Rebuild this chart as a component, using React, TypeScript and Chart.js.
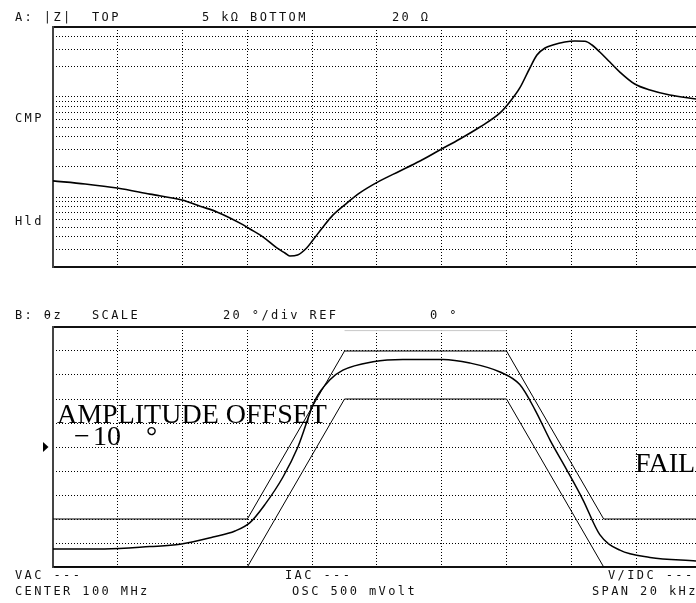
import React, { useEffect, useRef } from "react";
import { Chart, registerables } from "chart.js";
Chart.register(...registerables);

// Frequency axis: offset from CENTER 100 MHz, in kHz (SPAN 20 kHz, 2 kHz/div)
const FREQ_MIN = -10;
const FREQ_MAX = 9.85; // visible right edge
const FREQ_GRID = [-8, -6, -4, -2, 0, 2, 4, 6, 8];

// Trace A: |Z| (log, TOP 5 kOhm, BOTTOM 20 Ohm)
const Z_MIN = 20;
const Z_MAX = 5000;
const Z_GRID = [30, 40, 50, 60, 70, 80, 90, 100, 200, 300, 400, 500, 600, 700, 800, 900, 1000, 2000, 3000, 4000];
const Z_FREQ = [-10, -9.01, -8.02, -7.01, -5.99, -5.46, -4.94, -4.14, -3.92, -3.52, -3.09, -2.84, -2.69, -2.45, -2.17, -1.98, -1.67, -1.36, -0.93, -0.53, 0.09, 0.71, 1.33, 1.94, 2.56, 3.18, 3.8, 4.1, 4.41, 4.72, 4.94, 5.19, 5.43, 5.8, 6.11, 6.42, 6.64, 6.88, 7.19, 7.5, 7.96, 8.43, 9.04, 9.85];
const Z_OHM = [145, 135, 123, 107, 93, 81, 71, 53, 48, 40, 31, 27.6, 25.8, 26.4, 31, 37, 50, 66, 87, 110, 145, 182, 229, 295, 380, 501, 692, 891, 1230, 1945, 2624, 3083, 3304, 3540, 3622, 3600, 3304, 2812, 2234, 1774, 1346, 1172, 1045, 953];

// Trace B: theta z (linear, 20 deg/div, REF 0 deg)
const PH_MIN = -100;
const PH_MAX = 100;
const PH_GRID = [-80, -60, -40, -20, 0, 20, 40, 60, 80];
const PH_REF = 0;
const PH_FREQ = [-10, -8.4, -7.01, -6.08, -5.06, -4.38, -3.92, -3.46, -2.9, -2.44, -1.91, -1.45, -1.05, -0.12, 0.8, 2.04, 2.87, 3.8, 4.41, 4.88, 5.34, 5.86, 6.36, 6.88, 7.5, 8.43, 9.85];
const PH_DEG = [-85, -85, -83, -81, -75, -70, -63, -48, -25, 0, 39, 56, 64, 71, 73, 73, 70, 62.5, 52, 31, 6, -19, -44, -73, -86, -92, -95];

// Limit lines
const LIM_FREQ = [-10, -4, -1, 4, 7, 9.85];
const UPPER_DEG = [-60, -60, 80, 80, -60, -60];
const LOWER_DEG = [-100, -100, 40, 40, -100, -100];
const GHOST_FREQ = [-1, 4];
const GHOST_DEG = [97, 97];

const pts = (xs: number[], ys: number[]) => xs.map((x, i) => ({ x, y: ys[i] }));

const framePlugin = {
  id: "frame",
  beforeDatasetsDraw(chart: any, _args: any, opts: any) {
    const { ctx, chartArea } = chart;
    const { left, right, top, bottom } = chartArea;
    ctx.save();
    ctx.setLineDash([]);
    ctx.strokeStyle = "#111";
    ctx.lineWidth = 2;
    ctx.beginPath();
    ctx.moveTo(left, top);
    ctx.lineTo(right, top);
    ctx.moveTo(left, bottom);
    ctx.lineTo(right, bottom);
    ctx.stroke();
    ctx.strokeStyle = "#444";
    ctx.beginPath();
    ctx.moveTo(left, top - 1);
    ctx.lineTo(left, bottom + 1);
    ctx.stroke();
    if (opts && typeof opts.marker === "number") {
      const y = chart.scales.y.getPixelForValue(opts.marker);
      ctx.fillStyle = "#000";
      ctx.beginPath();
      ctx.moveTo(left - 10, y - 5);
      ctx.lineTo(left - 4.5, y);
      ctx.lineTo(left - 10, y + 5);
      ctx.closePath();
      ctx.fill();
    }
    ctx.restore();
  },
};

const gridScale = (extra: any, grid: number[]) => ({
  ...extra,
  afterBuildTicks: (s: any) => {
    s.ticks = grid.map((v) => ({ value: v }));
  },
  ticks: { display: false },
  grid: { drawTicks: false, color: "#000", lineWidth: 1 },
  border: { display: false, dash: [1, 2] },
});

const baseOptions = (yScale: any, marker?: number) => ({
  responsive: false,
  animation: false as const,
  events: [] as any[],
  layout: { padding: { left: 53, top: 27, right: 0, bottom: 13 } },
  plugins: {
    legend: { display: false },
    tooltip: { enabled: false },
    title: { display: false },
    frame: { marker },
  },
  scales: {
    x: gridScale({ type: "linear", min: FREQ_MIN, max: FREQ_MAX }, FREQ_GRID),
    y: yScale,
  },
});

const mono: React.CSSProperties = {
  position: "absolute",
  fontFamily: '"DejaVu Sans Mono", monospace',
  fontSize: 12,
  lineHeight: "12px",
  letterSpacing: "2.4px",
  color: "#111",
  whiteSpace: "pre",
};

const serif: React.CSSProperties = {
  position: "absolute",
  fontFamily: '"Liberation Serif", serif',
  fontSize: 28,
  lineHeight: "28px",
  color: "#000",
  whiteSpace: "pre",
};

export default function App() {
  const aRef = useRef<HTMLCanvasElement>(null);
  const bRef = useRef<HTMLCanvasElement>(null);

  useEffect(() => {
    const a = new Chart(aRef.current as HTMLCanvasElement, {
      type: "line",
      data: {
        datasets: [
          {
            data: pts(Z_FREQ, Z_OHM),
            borderColor: "#000",
            borderWidth: 1.6,
            pointRadius: 0,
            cubicInterpolationMode: "monotone",
          },
        ],
      },
      options: baseOptions(gridScale({ type: "logarithmic", min: Z_MIN, max: Z_MAX }, Z_GRID)) as any,
      plugins: [framePlugin],
    });
    const b = new Chart(bRef.current as HTMLCanvasElement, {
      type: "line",
      data: {
        datasets: [
          {
            data: pts(GHOST_FREQ, GHOST_DEG),
            borderColor: "#c8c8c8",
            borderWidth: 1,
            pointRadius: 0,
          },
          {
            data: pts(LIM_FREQ, UPPER_DEG),
            borderColor: "#000",
            borderWidth: 1,
            pointRadius: 0,
            tension: 0,
          },
          {
            data: pts(LIM_FREQ, LOWER_DEG),
            borderColor: "#000",
            borderWidth: 1,
            pointRadius: 0,
            tension: 0,
          },
          {
            data: pts(PH_FREQ, PH_DEG),
            borderColor: "#000",
            borderWidth: 1.5,
            pointRadius: 0,
            cubicInterpolationMode: "monotone",
          },
        ],
      },
      options: baseOptions(gridScale({ type: "linear", min: PH_MIN, max: PH_MAX }, PH_GRID), PH_REF) as any,
      plugins: [framePlugin],
    });
    return () => {
      a.destroy();
      b.destroy();
    };
  }, []);

  return (
    <div
      style={{
        position: "fixed",
        left: 0,
        top: 0,
        width: 696,
        height: 603,
        overflow: "hidden",
        background: "#fff",
      }}
    >
      <canvas ref={aRef} width={696} height={280} style={{ position: "absolute", left: 0, top: 0 }} />
      <canvas ref={bRef} width={696} height={280} style={{ position: "absolute", left: 0, top: 300 }} />

      <span style={{ ...mono, left: 15, top: 11 }}>A: |Z|  TOP</span>
      <span style={{ ...mono, left: 202, top: 11 }}>5 kΩ BOTTOM</span>
      <span style={{ ...mono, left: 392, top: 11 }}>20 Ω</span>
      <span style={{ ...mono, left: 15, top: 112 }}>CMP</span>
      <span style={{ ...mono, left: 15, top: 215 }}>Hld</span>

      <span style={{ ...mono, left: 15, top: 309 }}>B: θz   SCALE</span>
      <span style={{ ...mono, left: 223, top: 309 }}>20 °/div REF</span>
      <span style={{ ...mono, left: 430, top: 309 }}>0 °</span>

      <span style={{ ...serif, left: 57, top: 399.5 }}>AMPLITUDE OFFSET</span>
      <span style={{ ...serif, left: 74, top: 421.5 }}>−</span>
      <span style={{ ...serif, left: 93, top: 421.5 }}>10</span>
      <span style={{ ...serif, left: 146, top: 421.5 }}>°</span>
      <span style={{ ...serif, left: 635, top: 448.5 }}>FAIL</span>

      <span style={{ ...mono, left: 15, top: 569 }}>VAC ---</span>
      <span style={{ ...mono, left: 15, top: 585 }}>CENTER 100 MHz</span>
      <span style={{ ...mono, left: 285, top: 569 }}>IAC ---</span>
      <span style={{ ...mono, left: 292, top: 585 }}>OSC 500 mVolt</span>
      <span style={{ ...mono, left: 608, top: 569 }}>V/IDC ---</span>
      <span style={{ ...mono, left: 592, top: 585 }}>SPAN 20 kHz</span>
    </div>
  );
}
